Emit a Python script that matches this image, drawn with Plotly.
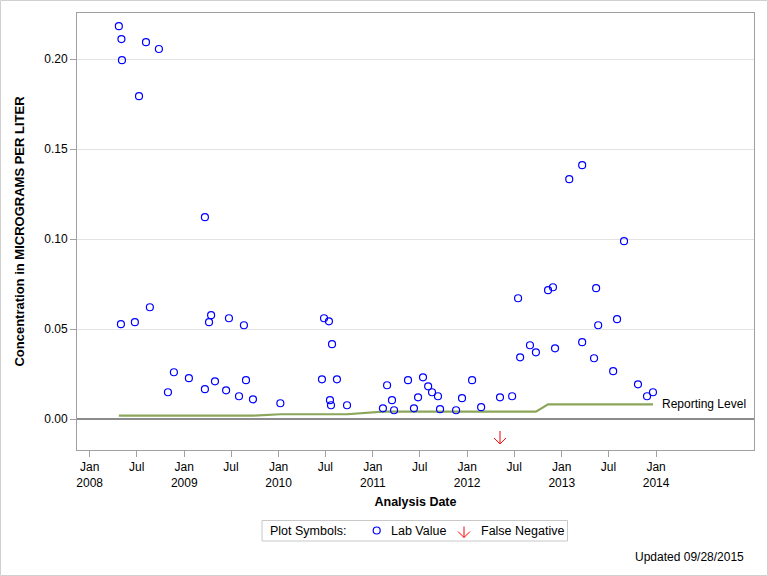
import plotly.graph_objects as go

# ---------------- data ----------------
lab_dates = [
    '2008-04-23', '2008-05-01', '2008-05-03', '2008-05-05', '2008-06-24', '2008-07-10',
    '2008-08-06', '2008-08-21', '2008-09-25', '2008-10-30', '2008-11-22', '2009-01-19',
    '2009-03-22', '2009-03-22', '2009-04-07', '2009-04-15', '2009-04-30', '2009-06-12',
    '2009-06-23', '2009-08-01', '2009-08-20', '2009-08-28', '2009-09-24', '2010-01-08',
    '2010-06-18', '2010-06-26', '2010-07-15', '2010-07-19', '2010-07-23', '2010-07-27',
    '2010-08-15', '2010-09-23', '2011-02-09', '2011-02-25', '2011-03-16', '2011-03-24',
    '2011-05-17', '2011-06-09', '2011-06-25', '2011-07-14', '2011-08-03', '2011-08-18',
    '2011-09-10', '2011-09-18', '2011-11-19', '2011-12-12', '2012-01-20', '2012-02-24',
    '2012-05-07', '2012-06-23', '2012-07-16', '2012-07-24', '2012-08-31', '2012-09-23',
    '2012-11-09', '2012-11-28', '2012-12-06', '2013-01-30', '2013-03-21', '2013-03-21',
    '2013-05-06', '2013-05-14', '2013-05-22', '2013-07-19', '2013-08-03', '2013-08-30',
    '2013-10-23', '2013-11-27', '2013-12-20',
]
lab_values = [
    0.2183, 0.0528, 0.2111, 0.1994, 0.0539, 0.1794,
    0.2094, 0.0622, 0.2056, 0.0150, 0.0261, 0.0228,
    0.1122, 0.0167, 0.0539, 0.0578, 0.0211, 0.0161,
    0.0561, 0.0128, 0.0522, 0.0217, 0.0111, 0.0089,
    0.0222, 0.0561, 0.0544, 0.0106, 0.0078, 0.0417,
    0.0222, 0.0078, 0.0061, 0.0189, 0.0106, 0.0050,
    0.0217, 0.0061, 0.0122, 0.0233, 0.0183, 0.0150,
    0.0128, 0.0056, 0.0050, 0.0117, 0.0217, 0.0067,
    0.0122, 0.0128, 0.0672, 0.0344, 0.0411, 0.0372,
    0.0717, 0.0733, 0.0394, 0.1333, 0.1411, 0.0428,
    0.0339, 0.0728, 0.0522, 0.0267, 0.0556, 0.0989,
    0.0194, 0.0128, 0.0150,
]

rl_dates = ['2008-04-23', '2009-09-24', '2010-01-08', '2010-09-23',
            '2011-02-09', '2012-09-23', '2012-11-09', '2013-12-20']
rl_values = [0.0020, 0.0020, 0.0028, 0.0028, 0.0042, 0.0042, 0.0083, 0.0083]

fn_dates = ['2012-05-07']

x_tick_dates = ['2008-01-01', '2008-07-01', '2009-01-01', '2009-07-01', '2010-01-01',
                '2010-07-01', '2011-01-01', '2011-07-01', '2012-01-01', '2012-07-01',
                '2013-01-01', '2013-07-01', '2014-01-01']
x_tick_labels = ['Jan<br>2008', 'Jul', 'Jan<br>2009', 'Jul', 'Jan<br>2010', 'Jul',
                 'Jan<br>2011', 'Jul', 'Jan<br>2012', 'Jul', 'Jan<br>2013', 'Jul',
                 'Jan<br>2014']
y_tick_vals = [0.00, 0.05, 0.10, 0.15, 0.20]
y_tick_labels = ['0.00', '0.05', '0.10', '0.15', '0.20']

# ---------------- style / layout ----------------
W, H = 768, 576
ML, MR, MT, MB = 77, 14, 13, 126
PW, PH = W - ML - MR, H - MT - MB
FONT = 'Liberation Sans, Arial, sans-serif'
FN_MARK_Y = -0.0137          # display position of false-negative arrow tips
X_RANGE = ['2007-11-13', '2015-01-15']
Y_RANGE = [-0.01706, 0.2256]
FRAME = '#a0a0a0'
RED = '#FF0000'


def px(x):
    return (x - ML) / PW


def py(y):
    return (H - MB - y) / PH


def arrow_shapes(xa, ya, xref, yref, shaft=13, barb=6):
    """Thin down arrow whose tip is anchored at (xa, ya); sizes in pixels."""
    out = []
    for (x0, y0) in [(0, shaft), (-barb, barb), (barb, barb)]:
        out.append(dict(type='line', xref=xref, yref=yref,
                        xsizemode='pixel', ysizemode='pixel',
                        xanchor=xa, yanchor=ya, x0=x0, y0=y0, x1=0, y1=0,
                        line=dict(color=RED, width=1)))
    return out


fig = go.Figure()
fig.add_trace(go.Scatter(
    x=rl_dates, y=rl_values, mode='lines',
    line=dict(color='#8BA65A', width=2.2),
    showlegend=False, hoverinfo='skip'))
fig.add_trace(go.Scatter(
    x=lab_dates, y=lab_values, mode='markers', name='Lab Value',
    marker=dict(symbol='circle-open', size=7, color='#0000FF', line=dict(width=1.2)),
    showlegend=False))

annotations = [
    dict(x=rl_dates[-1], y=rl_values[-1], xref='x', yref='y', text='Reporting Level',
         showarrow=False, xanchor='left', yanchor='middle', xshift=7,
         font=dict(family=FONT, size=12, color='#000000')),
]

# legend box (manual)
LEG_Y = 530.5
annotations += [
    dict(x=px(268), y=py(LEG_Y), xref='paper', yref='paper', text='Plot Symbols:',
         showarrow=False, xanchor='left', yanchor='middle',
         font=dict(family=FONT, size=12.5, color='#000000')),
    dict(x=px(389), y=py(LEG_Y), xref='paper', yref='paper', text='Lab Value',
         showarrow=False, xanchor='left', yanchor='middle',
         font=dict(family=FONT, size=12.5, color='#000000')),
    dict(x=px(479), y=py(LEG_Y), xref='paper', yref='paper', text='False Negative',
         showarrow=False, xanchor='left', yanchor='middle',
         font=dict(family=FONT, size=12.5, color='#000000')),
    dict(x=px(746), y=py(556.5), xref='paper', yref='paper', text='Updated 09/28/2015',
         showarrow=False, xanchor='right', yanchor='middle',
         font=dict(family=FONT, size=12, color='#000000')),
]

shapes = [
    # outer image border
    dict(type='rect', xref='paper', yref='paper',
         x0=px(0.5), x1=px(W - 0.5), y0=py(H - 0.5), y1=py(0.5),
         line=dict(color='#d0d0d0', width=1), fillcolor='rgba(0,0,0,0)', layer='above'),
    # legend frame
    dict(type='rect', xref='paper', yref='paper',
         x0=px(262), x1=px(567.5), y0=py(541), y1=py(520.5),
         line=dict(color='#c8c8c8', width=1), fillcolor='rgba(0,0,0,0)'),
    # legend circle symbol
    dict(type='circle', xref='paper', yref='paper', xsizemode='pixel', ysizemode='pixel',
         xanchor=px(376.7), yanchor=py(LEG_Y), x0=-3.5, x1=3.5, y0=-3.5, y1=3.5,
         line=dict(color='#0000FF', width=1.2)),
]
# legend arrow symbol
shapes += arrow_shapes(px(464), py(537.5), 'paper', 'paper', shaft=11, barb=6)
# false-negative arrows in the plot
for d in fn_dates:
    shapes += arrow_shapes(d, FN_MARK_Y, 'x', 'y', shaft=13, barb=6)

fig.update_layout(
    width=W, height=H,
    margin=dict(l=ML, r=MR, t=MT, b=MB, pad=0),
    paper_bgcolor='white', plot_bgcolor='white',
    font=dict(family=FONT, size=12, color='#000000'),
    showlegend=False,
    annotations=annotations,
    shapes=shapes,
    xaxis=dict(
        type='date', range=X_RANGE, tickmode='array',
        tickvals=x_tick_dates, ticktext=x_tick_labels,
        showgrid=False, zeroline=False,
        showline=True, mirror=True, linecolor=FRAME, linewidth=1,
        ticks='outside', ticklen=6, tickcolor=FRAME, tickwidth=1,
        tickfont=dict(family=FONT, size=12, color='#000000'),
        title=dict(text='<b>Analysis Date</b>', standoff=8,
                   font=dict(family=FONT, size=12.5, color='#000000')),
        automargin=False,
    ),
    yaxis=dict(
        range=Y_RANGE, tickmode='array', tickvals=y_tick_vals, ticktext=y_tick_labels,
        showgrid=True, gridcolor='#e3e3e3', gridwidth=1,
        zeroline=True, zerolinecolor='#8c8c8c', zerolinewidth=2,
        showline=True, mirror=True, linecolor=FRAME, linewidth=1,
        ticks='outside', ticklen=6, tickcolor=FRAME, tickwidth=1,
        tickfont=dict(family=FONT, size=12, color='#000000'),
        title=dict(text='<b>Concentration in MICROGRAMS PER LITER</b>', standoff=16,
                   font=dict(family=FONT, size=13, color='#000000')),
        automargin=False,
    ),
)

fig.write_html('out.html', config={'displayModeBar': False},
               post_script="document.body.style.margin='0';document.body.style.overflow='hidden';")
